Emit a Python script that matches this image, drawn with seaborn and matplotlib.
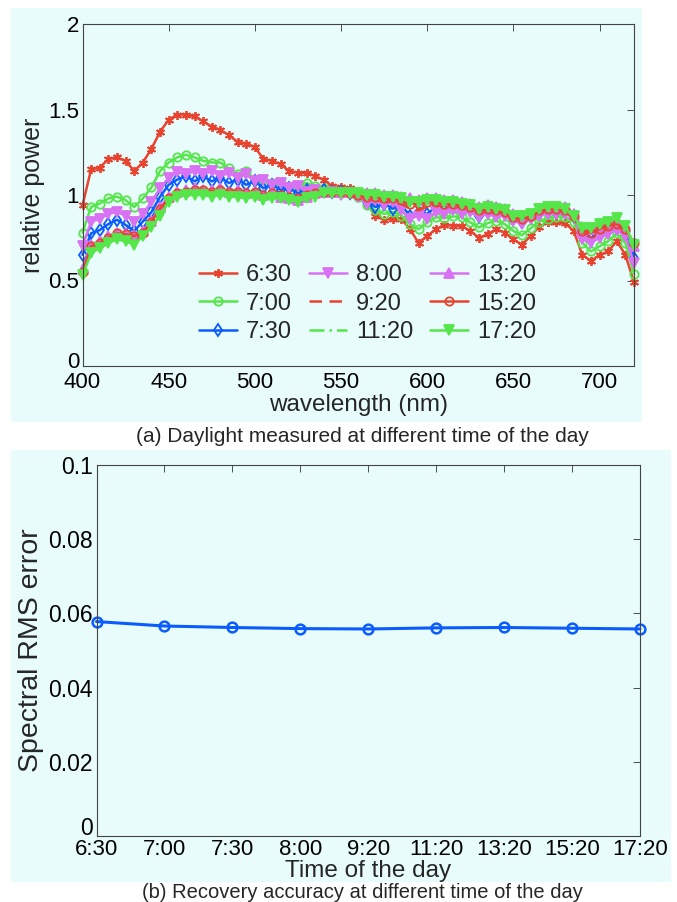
import numpy as np
import pandas as pd
import seaborn as sns
import matplotlib.pyplot as plt
from matplotlib.patches import Rectangle
from matplotlib.ticker import FormatStrFormatter
from matplotlib.transforms import ScaledTranslation

# wavelength grid (nm)
wavelength = np.arange(400, 721, 5)

# relative power of daylight at each time of the day
t0630 = [0.94, 1.15, 1.16, 1.21, 1.22, 1.20, 1.14, 1.19, 1.27, 1.37,
         1.44, 1.47, 1.47, 1.46, 1.43, 1.40, 1.38, 1.35, 1.31, 1.30,
         1.28, 1.21, 1.20, 1.18, 1.14, 1.13, 1.13, 1.11, 1.09, 1.05,
         1.045, 1.04, 1.02, 0.95, 0.88, 0.855, 0.86, 0.86, 0.80, 0.72,
         0.76, 0.80, 0.825, 0.82, 0.82, 0.79, 0.75, 0.77, 0.80, 0.78,
         0.74, 0.71, 0.76, 0.815, 0.84, 0.84, 0.835, 0.79, 0.65, 0.615,
         0.65, 0.67, 0.73, 0.65, 0.49]
t0700 = [0.78, 0.93, 0.95, 0.98, 0.99, 0.97, 0.93, 0.98, 1.045, 1.14,
         1.19, 1.22, 1.235, 1.22, 1.20, 1.19, 1.19, 1.155, 1.125, 1.14,
         1.09, 1.085, 1.07, 1.07, 1.045, 1.05, 1.07, 1.05, 1.04, 1.02,
         1.01, 1.01, 0.99, 0.94, 0.91, 0.89, 0.90, 0.88, 0.83, 0.80,
         0.84, 0.87, 0.865, 0.875, 0.87, 0.84, 0.81, 0.835, 0.85, 0.83,
         0.79, 0.765, 0.805, 0.845, 0.86, 0.873, 0.87, 0.845, 0.72, 0.67,
         0.70, 0.73, 0.775, 0.72, 0.54]
t0730 = [0.65, 0.776, 0.795, 0.83, 0.855, 0.825, 0.79, 0.845, 0.90, 0.99,
         1.06, 1.09, 1.11, 1.08, 1.11, 1.08, 1.10, 1.07, 1.09, 1.06,
         1.08, 1.04, 1.06, 1.03, 1.04, 1.01, 1.03, 1.02, 1.03, 1.02,
         1.02, 1.01, 1.00, 0.96, 0.93, 0.95, 0.92, 0.94, 0.88, 0.90,
         0.89, 0.93, 0.91, 0.93, 0.91, 0.92, 0.88, 0.90, 0.89, 0.90,
         0.86, 0.84, 0.87, 0.89, 0.90, 0.90, 0.90, 0.88, 0.77, 0.75,
         0.77, 0.79, 0.805, 0.78, 0.63]
t0800 = [0.70, 0.845, 0.86, 0.89, 0.90, 0.88, 0.845, 0.89, 0.96, 1.04,
         1.10, 1.135, 1.12, 1.14, 1.12, 1.14, 1.11, 1.13, 1.10, 1.12,
         1.08, 1.09, 1.06, 1.07, 1.04, 1.05, 1.02, 1.03, 1.01, 1.02,
         1.00, 1.01, 0.99, 0.95, 0.97, 0.94, 0.96, 0.91, 0.86, 0.88,
         0.86, 0.90, 0.89, 0.91, 0.89, 0.90, 0.87, 0.89, 0.87, 0.88,
         0.85, 0.83, 0.86, 0.88, 0.89, 0.89, 0.89, 0.87, 0.74, 0.72,
         0.75, 0.77, 0.795, 0.76, 0.60]
t0920 = [0.56, 0.71, 0.73, 0.76, 0.78, 0.77, 0.76, 0.79, 0.85, 0.93,
         0.99, 1.02, 1.03, 1.03, 1.03, 1.03, 1.03, 1.02, 1.02, 1.01,
         1.01, 1.00, 1.00, 0.99, 0.98, 0.97, 0.99, 1.00, 1.01, 1.02,
         1.02, 1.01, 1.00, 0.98, 0.97, 0.96, 0.96, 0.95, 0.92, 0.91,
         0.93, 0.94, 0.94, 0.94, 0.93, 0.92, 0.90, 0.91, 0.91, 0.90,
         0.87, 0.85, 0.87, 0.90, 0.91, 0.91, 0.90, 0.87, 0.78, 0.77,
         0.79, 0.81, 0.82, 0.79, 0.70]
t1120 = [0.55, 0.69, 0.71, 0.74, 0.76, 0.75, 0.74, 0.77, 0.83, 0.91,
         0.97, 1.00, 1.01, 1.01, 1.01, 1.01, 1.01, 1.00, 1.00, 0.99,
         1.00, 0.99, 0.99, 0.98, 0.97, 0.97, 0.98, 1.00, 1.01, 1.01,
         1.01, 1.01, 1.00, 0.99, 0.98, 0.97, 0.97, 0.96, 0.94, 0.93,
         0.95, 0.95, 0.95, 0.95, 0.94, 0.93, 0.91, 0.92, 0.92, 0.91,
         0.88, 0.86, 0.88, 0.91, 0.92, 0.92, 0.91, 0.87, 0.80, 0.79,
         0.81, 0.83, 0.84, 0.80, 0.71]
t1320 = [0.57, 0.71, 0.73, 0.76, 0.78, 0.775, 0.765, 0.79, 0.85, 0.93,
         0.99, 1.02, 1.03, 1.04, 1.03, 1.03, 1.04, 1.02, 1.03, 1.01,
         1.02, 1.00, 1.01, 0.99, 0.98, 0.97, 0.99, 1.01, 1.02, 1.02,
         1.02, 1.02, 1.01, 1.01, 1.01, 1.00, 1.00, 0.99, 0.98, 0.97,
         0.98, 0.98, 0.97, 0.97, 0.96, 0.95, 0.93, 0.94, 0.93, 0.92,
         0.89, 0.87, 0.89, 0.92, 0.93, 0.93, 0.93, 0.89, 0.81, 0.80,
         0.82, 0.84, 0.85, 0.81, 0.70]
t1520 = [0.55, 0.70, 0.72, 0.75, 0.775, 0.77, 0.76, 0.78, 0.845, 0.92,
         0.98, 1.01, 1.02, 1.03, 1.03, 1.02, 1.03, 1.02, 1.02, 1.01,
         1.02, 1.00, 1.01, 1.00, 0.99, 0.98, 1.00, 1.01, 1.02, 1.02,
         1.02, 1.01, 1.00, 0.99, 0.99, 0.98, 0.98, 0.97, 0.95, 0.95,
         0.96, 0.96, 0.95, 0.95, 0.94, 0.93, 0.91, 0.92, 0.91, 0.90,
         0.87, 0.86, 0.88, 0.91, 0.92, 0.92, 0.91, 0.88, 0.79, 0.78,
         0.80, 0.82, 0.83, 0.80, 0.72]
t1720 = [0.53, 0.66, 0.69, 0.72, 0.74, 0.73, 0.71, 0.76, 0.815, 0.88,
         0.96, 0.99, 1.00, 1.00, 1.00, 0.99, 1.00, 0.99, 0.99, 0.98,
         0.99, 0.97, 0.98, 0.98, 0.97, 0.96, 0.98, 0.99, 1.01, 1.01,
         1.01, 1.01, 1.01, 1.00, 1.00, 0.99, 0.99, 0.98, 0.96, 0.96,
         0.97, 0.97, 0.96, 0.96, 0.95, 0.94, 0.92, 0.93, 0.92, 0.91,
         0.88, 0.875, 0.89, 0.92, 0.93, 0.93, 0.92, 0.875, 0.805, 0.805,
         0.83, 0.84, 0.865, 0.82, 0.71]

# recovery error per time of the day
times = ['6:30', '7:00', '7:30', '8:00', '9:20', '11:20', '13:20', '15:20', '17:20']
rms_error = [0.0578, 0.0566, 0.0562, 0.0559, 0.0558, 0.0561, 0.0562, 0.0560, 0.0558]

RED = '#e8432e'
GREEN = '#55e64a'
BLUE = '#0a5cff'
VIOLET = '#d872f2'
PANEL = '#e8fcfc'

asterisk = (6, 2, 0)
series = [
    ('6:30', t0630, RED, asterisk, '-', 'full'),
    ('7:00', t0700, GREEN, 'o', '-', 'none'),
    ('7:30', t0730, BLUE, 'd', '-', 'none'),
    ('8:00', t0800, VIOLET, 'v', '-', 'full'),
    ('9:20', t0920, RED, None, (0, (5, 3)), 'none'),
    ('11:20', t1120, GREEN, None, (0, (6, 2, 1, 2)), 'none'),
    ('13:20', t1320, VIOLET, '^', '-', 'full'),
    ('15:20', t1520, RED, 'o', '-', 'none'),
    ('17:20', t1720, GREEN, 'v', '-', 'full'),
]

sns.set_style('white')
plt.rcParams['font.family'] = ['Liberation Sans', 'DejaVu Sans']

fig = plt.figure(figsize=(6.77, 9.02), dpi=100)
W, H = 677.0, 902.0

# light cyan panels behind each plot
fig.add_artist(Rectangle((11 / W, 1 - 422 / H), 631 / W, 414 / H,
                         transform=fig.transFigure, color=PANEL, zorder=-5, lw=0))
fig.add_artist(Rectangle((11 / W, 1 - 882 / H), 660 / W, 432 / H,
                         transform=fig.transFigure, color=PANEL, zorder=-5, lw=0))

# (a) daylight spectra
ax1 = fig.add_axes([82.5 / W, 1 - 366 / H, 551.5 / W, 342 / H])
ax1.set_facecolor('none')
for name, vals, col, mk, ls, fill in series:
    kw = dict(color=col, linewidth=1.8, linestyle=ls, label=name, clip_on=False)
    if mk is not None:
        kw.update(marker=mk, markersize=6.5 if mk != 'o' else 6,
                  markeredgecolor=col, markeredgewidth=1.3,
                  markerfacecolor=col if fill == 'full' else 'none')
    sns.lineplot(x=wavelength, y=vals, ax=ax1, **kw)

ax1.set_xlim(400, 720)
ax1.set_ylim(0, 2)
ax1.set_xticks([400, 450, 500, 550, 600, 650, 700])
ax1.set_yticks([0, 0.5, 1, 1.5, 2])
ax1.yaxis.set_major_formatter(FormatStrFormatter('%g'))
ax1.set_xlabel('wavelength (nm)', fontsize=17.5, labelpad=1)
ax1.set_ylabel('relative power', fontsize=18, labelpad=2)
ax1.legend(ncol=3, loc='lower left', bbox_to_anchor=(0.207, 0.06), frameon=False,
           fontsize=17, handlelength=1.6, handletextpad=0.4, columnspacing=0.7,
           labelspacing=0.28, borderaxespad=0, borderpad=0.1)

# (b) recovery accuracy
ax2 = fig.add_axes([96.5 / W, 1 - 836 / H, 543.5 / W, 371 / H])
ax2.set_facecolor('none')
pos = list(range(len(times)))
sns.lineplot(x=pos, y=rms_error, ax=ax2, color=BLUE, linewidth=2.2, marker='o',
             markersize=7, markerfacecolor='none', markeredgecolor=BLUE,
             markeredgewidth=1.8, clip_on=False)
ax2.set_xlim(0, len(times) - 1)
ax2.set_ylim(0, 0.1)
ax2.set_xticks(pos)
ax2.set_xticklabels(times)
ax2.set_yticks([0, 0.02, 0.04, 0.06, 0.08, 0.1])
ax2.yaxis.set_major_formatter(FormatStrFormatter('%g'))
ax2.set_xlabel('Time of the day', fontsize=17.5, labelpad=0)
ax2.set_ylabel('Spectral RMS error', fontsize=20.5, labelpad=3)

for ax, fs in [(ax1, 16), (ax2, 16.5)]:
    ax.tick_params(direction='in', length=5, width=0.6, top=True, right=True,
                   labelsize=fs, pad=2.5, colors='#333333', labelcolor='black')
    for sp in ax.spines.values():
        sp.set_visible(True)
        sp.set_color('#444444')
        sp.set_linewidth(0.8)
ax1.tick_params(axis='x', pad=4)
ax2.tick_params(axis='x', pad=2, labelsize=16)

# the "0" of each y axis sits a little above the x tick labels
fig.canvas.draw()
for ax, up in [(ax1, 4), (ax2, 7)]:
    lab = ax.get_yticklabels()[0]
    lab.set_transform(lab.get_transform() + ScaledTranslation(0, up / 72, fig.dpi_scale_trans))

fig.text(0.535, 1 - 437 / H, '(a) Daylight measured at different time of the day',
         ha='center', va='center', fontsize=15)
fig.text(0.535, 1 - 893 / H, '(b) Recovery accuracy at different time of the day',
         ha='center', va='center', fontsize=14.5)

fig.savefig('out.png', dpi=100, facecolor='white')
